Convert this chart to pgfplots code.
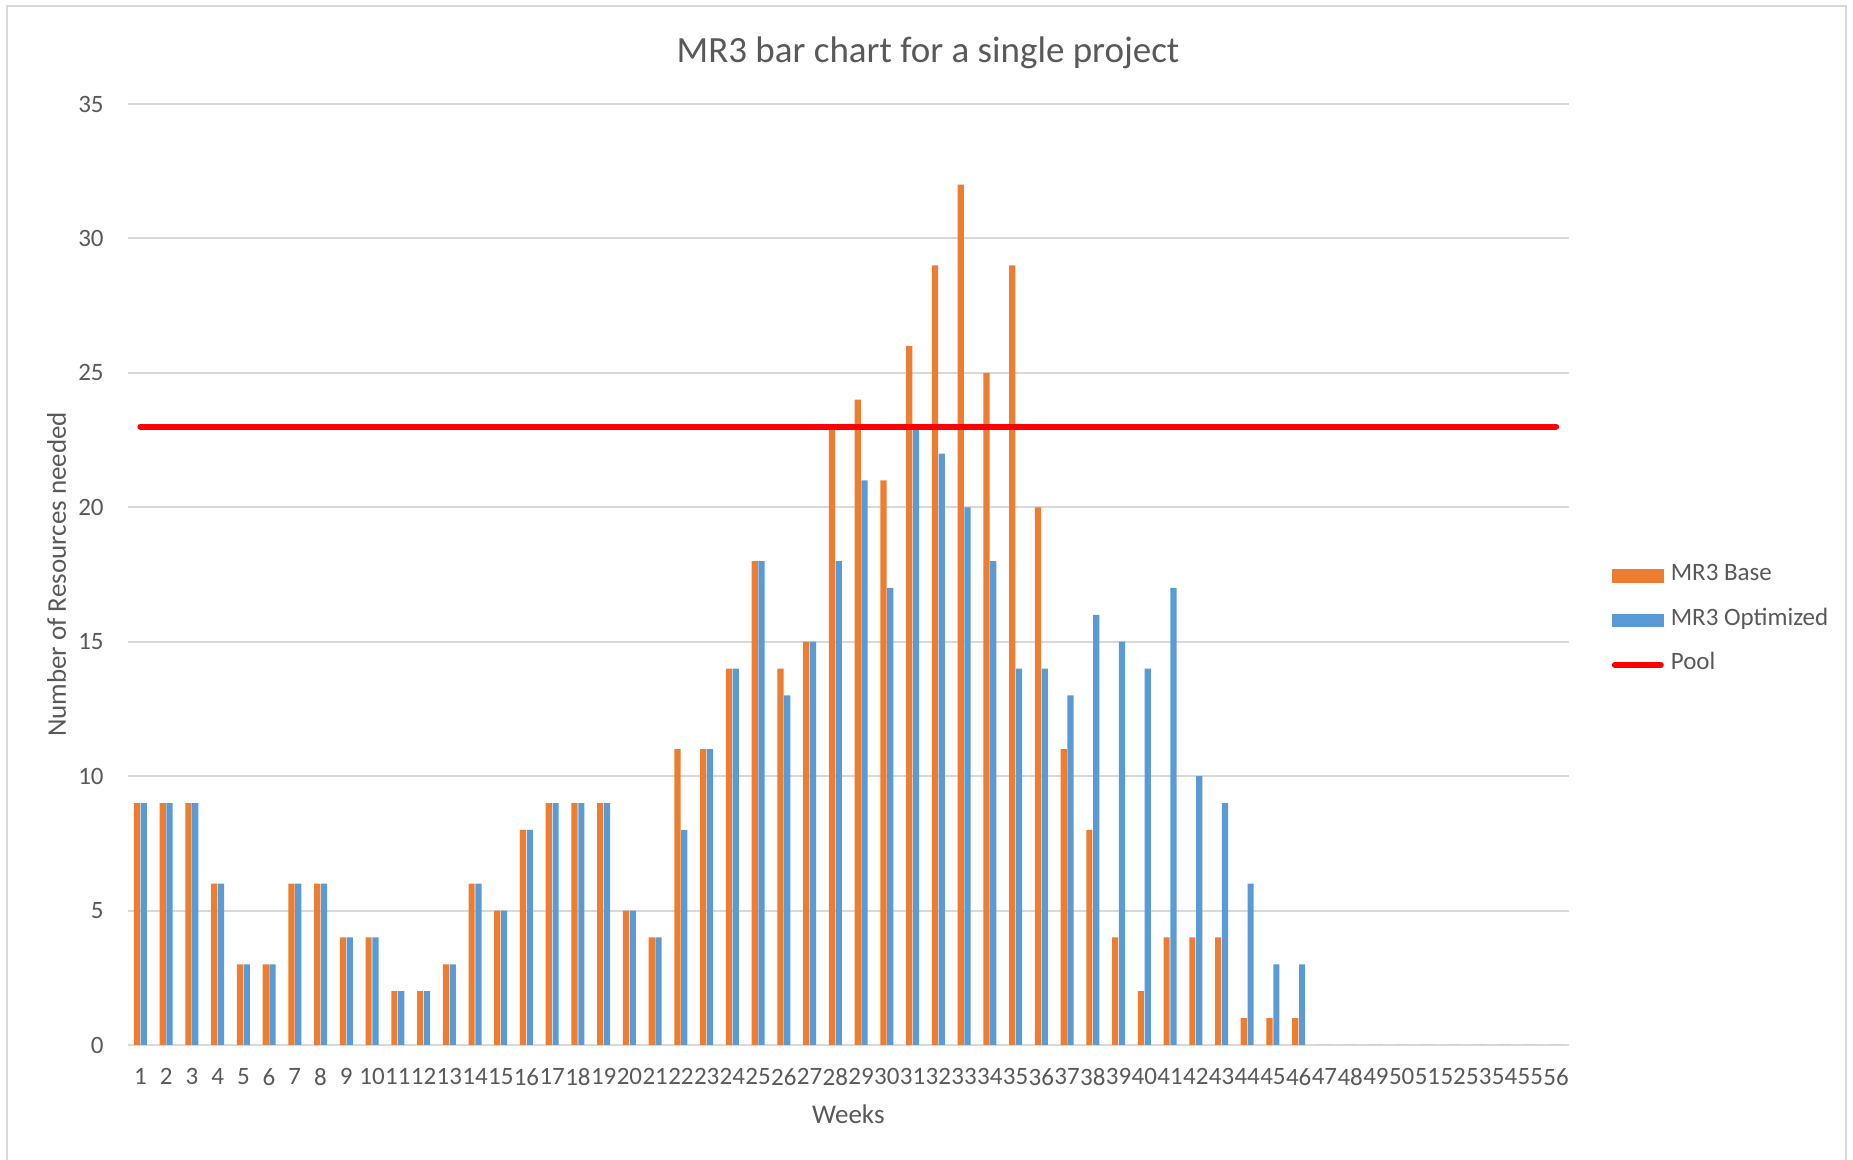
\documentclass[border=0pt]{standalone}
\usepackage{fontspec}
\setmainfont{Carlito}
\usepackage{pgfplots}
\pgfplotsset{compat=1.18}
\definecolor{xlorange}{HTML}{ED7D31}
\definecolor{xlblue}{HTML}{5B9BD5}
\definecolor{xltext}{HTML}{595959}
\definecolor{xlgrid}{HTML}{D9D9D9}

% week, base, optimized
\pgfplotstableread{
w b o
1 9 9
2 9 9
3 9 9
4 6 6
5 3 3
6 3 3
7 6 6
8 6 6
9 4 4
10 4 4
11 2 2
12 2 2
13 3 3
14 6 6
15 5 5
16 8 8
17 9 9
18 9 9
19 9 9
20 5 5
21 4 4
22 11 8
23 11 11
24 14 14
25 18 18
26 14 13
27 15 15
28 23 18
29 24 21
30 21 17
31 26 23
32 29 22
33 32 20
34 25 18
35 29 14
36 20 14
37 11 13
38 8 16
39 4 15
40 2 14
41 4 17
42 4 10
43 4 9
44 1 6
45 1 3
46 1 3
47 0 0
48 0 0
49 0 0
50 0 0
51 0 0
52 0 0
53 0 0
54 0 0
55 0 0
56 0 0
}\weeks

\begin{document}
\begin{tikzpicture}
\useasboundingbox (0,0) rectangle (926.5pt,580pt);
\draw[xlgrid, line width=1pt] (3.5pt,0) -- (3.5pt,577pt) -- (923pt,577pt) -- (923pt,0);
\node[text=xltext, font=\fontsize{18.5}{22}\selectfont] at (464pt,553.8pt) {MR3 bar chart for a single project};
\begin{axis}[
  at={(63.75pt,57.5pt)}, anchor=south west,
  scale only axis, width=720.75pt, height=470.5pt,
  xmin=0.5, xmax=56.5, ymin=0, ymax=35,
  xtick={1,...,56}, ytick={0,5,...,35},
  /pgf/number format/assume math mode=true,
  major tick length=0pt,
  axis line style={draw=none},
  ymajorgrids, grid style={xlgrid, line width=1pt},
  tick label style={text=xltext, font=\fontsize{12.5}{15}\selectfont},
  xticklabel style={anchor=north, inner sep=0pt, yshift=-11.5pt},
  yticklabel style={anchor=east, inner sep=0pt, xshift=-11.75pt},
  xlabel={Weeks}, ylabel={Number of Resources needed},
  label style={text=xltext, font=\fontsize{13.5}{16}\selectfont},
  xlabel style={at={(axis description cs:0.5,-0.0739)}, anchor=center},
  ylabel style={at={(axis description cs:-0.0491,0.5)}, anchor=center, rotate=0},
  legend style={draw=none, fill=none, inner sep=0pt, outer sep=0pt,
    at={(axis description cs:1.0297,0.451)}, anchor=west,
    font=\fontsize{12.5}{15}\selectfont, text=xltext,
    nodes={inner sep=0pt, text height=0.72em, text depth=0.25em},
    row sep=12.5pt,
    /tikz/every odd column/.append style={column sep=3.5pt}},
  legend cell align=left,
]
\addplot[ybar, bar width=3.1pt, bar shift=-1.7pt, fill=xlorange, draw=none,
  legend image code/.code={\fill[xlorange] (0pt,-3.375pt) rectangle (26pt,3.375pt);}]
  table[x=w, y=b] {\weeks};
\addlegendentry{MR3 Base}
\addplot[ybar, bar width=3.1pt, bar shift=1.7pt, fill=xlblue, draw=none,
  legend image code/.code={\fill[xlblue] (0pt,-3.375pt) rectangle (26pt,3.375pt);}]
  table[x=w, y=o] {\weeks};
\addlegendentry{MR3 Optimized}
\addplot[red, line width=3pt, line cap=round, sharp plot, mark=none,
  legend image code/.code={\draw[red, line width=3pt, line cap=round] (1.5pt,0pt) -- (24.5pt,0pt);}]
  coordinates {(1,23) (56,23)};
\addlegendentry{Pool}
\end{axis}
\end{tikzpicture}
\end{document}
